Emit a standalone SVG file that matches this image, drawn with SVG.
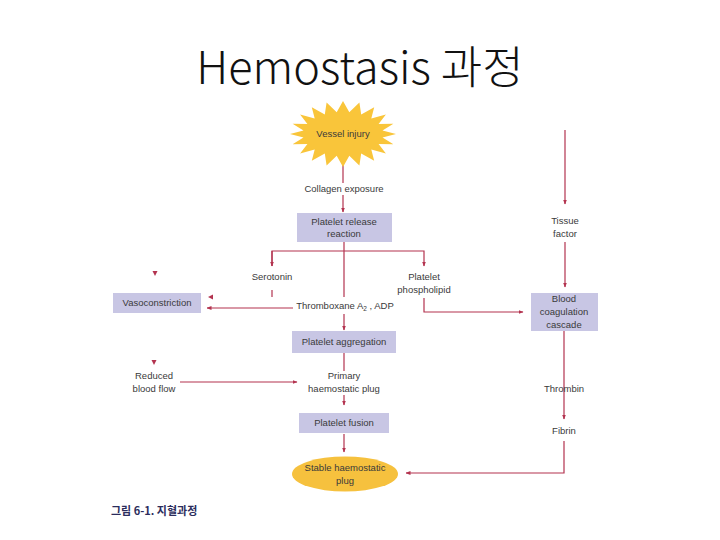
<svg xmlns="http://www.w3.org/2000/svg" width="720" height="540" viewBox="0 0 720 540">
<style>
.t{font-family:"Liberation Sans",Arial,sans-serif;font-size:9.5px;fill:#3a3a3a;text-anchor:middle}
.box{fill:#c8c6e4}
.c{stroke:#b3334f;stroke-width:1.2;fill:none}
</style>
<defs>
<marker id="a" viewBox="0 0 10 10" refX="9" refY="5" markerWidth="5" markerHeight="5" orient="auto" markerUnits="userSpaceOnUse">
<path d="M0,1 L10,5 L0,9 z" fill="#b3334f"/>
</marker>
</defs>
<rect width="720" height="540" fill="#fff"/>
<text x="360" y="84" font-family="'Noto Sans CJK KR','Noto Sans',sans-serif" font-size="45" font-weight="300" fill="#111" text-anchor="middle">Hemostasis 과정</text>

<g id="connectors">
<line class="c" x1="343" y1="158" x2="343" y2="183"/>
<line class="c" x1="343" y1="195" x2="343" y2="212" marker-end="url(#a)"/>
<line class="c" x1="344" y1="242" x2="344" y2="297"/>
<line class="c" x1="344" y1="314" x2="344" y2="330" marker-end="url(#a)"/>
<polyline class="c" points="272,266 272,251 424,251 424,266" marker-end="url(#a)"/>
<line class="c" x1="272" y1="251" x2="272" y2="266" marker-end="url(#a)"/>
<line class="c" x1="272" y1="290" x2="272" y2="297"/>
<line class="c" x1="293" y1="308" x2="207" y2="308" marker-end="url(#a)"/>
<path d="M213,294.5 L208,297 L213,299.5 z" fill="#b3334f"/>
<path d="M152.5,271 L155,276 L157.5,271 z" fill="#b3334f"/>
<path d="M151.5,360 L154,365 L156.5,360 z" fill="#b3334f"/>
<polyline class="c" points="424,298 424,312 523,312" marker-end="url(#a)"/>
<line class="c" x1="565" y1="130" x2="565" y2="204" marker-end="url(#a)"/>
<line class="c" x1="565" y1="242" x2="565" y2="287" marker-end="url(#a)"/>
<line class="c" x1="564" y1="331" x2="564" y2="419" marker-end="url(#a)"/>
<polyline class="c" points="564,441 564,473 406,473" marker-end="url(#a)"/>
<line class="c" x1="344" y1="353" x2="344" y2="371"/>
<line class="c" x1="344" y1="395" x2="344" y2="405" marker-end="url(#a)"/>
<line class="c" x1="180" y1="382" x2="297" y2="382" marker-end="url(#a)"/>
<line class="c" x1="344" y1="434" x2="344" y2="452" marker-end="url(#a)"/>
</g>

<g id="vessel-injury">
<polygon fill="#f9c53a" points="396,134 382.5,137.4 393.4,144.2 378.6,144 385.9,153.4 371.3,149.6 374.2,160.7 361.2,153.6 359.4,165.4 349.3,155.7 343,167 336.7,155.7 326.6,165.4 324.8,153.6 311.8,160.7 314.7,149.6 300.1,153.4 307.4,144 292.6,144.2 303.5,137.4 290,134 303.5,130.6 292.6,123.8 307.4,124 300.1,114.6 314.7,118.4 311.8,107.3 324.8,114.4 326.6,102.6 336.7,112.3 343,101 349.3,112.3 359.4,102.6 361.2,114.4 374.2,107.3 371.3,118.4 385.9,114.6 378.6,124 393.4,123.8 382.5,130.6"/>
<text class="t" x="343" y="137">Vessel injury</text>
</g>
<g id="collagen"><text class="t" x="344" y="192">Collagen exposure</text></g>
<g id="platelet-release">
<rect class="box" x="297" y="213" width="95" height="29"/>
<text class="t" x="344" y="225">Platelet release</text>
<text class="t" x="344" y="237">reaction</text>
</g>
<g id="serotonin"><text class="t" x="272" y="280">Serotonin</text></g>
<g id="phospholipid">
<text class="t" x="424" y="280">Platelet</text>
<text class="t" x="424" y="293">phospholipid</text>
</g>
<g id="thromboxane"><text class="t" x="345" y="309">Thromboxane A<tspan font-size="6.5" dy="2">2</tspan><tspan dy="-2"> , ADP</tspan></text></g>
<g id="vasoconstriction">
<rect class="box" x="113" y="293" width="88" height="20"/>
<text class="t" x="157" y="306">Vasoconstriction</text>
</g>
<g id="tissue-factor">
<text class="t" x="565" y="224">Tissue</text>
<text class="t" x="565" y="237">factor</text>
</g>
<g id="coagulation">
<rect class="box" x="531" y="293" width="67" height="38"/>
<text class="t" x="564" y="302">Blood</text>
<text class="t" x="564" y="315">coagulation</text>
<text class="t" x="564" y="328">cascade</text>
</g>
<g id="aggregation">
<rect class="box" x="292" y="331" width="104" height="22"/>
<text class="t" x="344" y="345">Platelet aggregation</text>
</g>
<g id="reduced-flow">
<text class="t" x="154" y="379">Reduced</text>
<text class="t" x="154" y="392">blood flow</text>
</g>
<g id="primary-plug">
<text class="t" x="344" y="379">Primary</text>
<text class="t" x="344" y="392">haemostatic plug</text>
</g>
<g id="thrombin"><text class="t" x="564" y="392">Thrombin</text></g>
<g id="fibrin"><text class="t" x="564" y="434">Fibrin</text></g>
<g id="platelet-fusion">
<rect class="box" x="299" y="413" width="90" height="20"/>
<text class="t" x="344" y="426">Platelet fusion</text>
</g>
<g id="stable-plug">
<ellipse cx="345" cy="474" rx="53" ry="17.5" fill="#f6c13e"/>
<text class="t" x="345" y="471">Stable haemostatic</text>
<text class="t" x="345" y="484">plug</text>
</g>
<text x="111" y="515" font-family="'Noto Sans CJK KR',sans-serif" font-size="11" font-weight="bold" fill="#2b2d5c">그림 6-1. 지혈과정</text>
</svg>
